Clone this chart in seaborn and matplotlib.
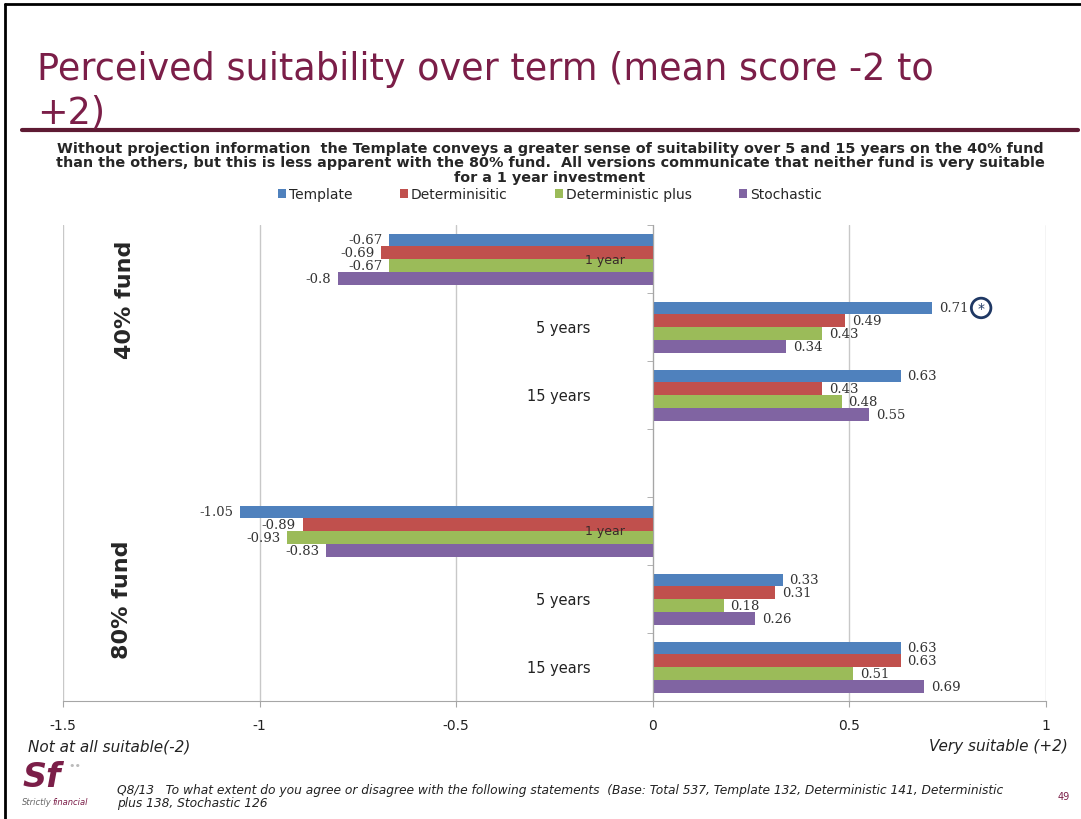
import pandas as pd
import matplotlib.pyplot as plt
import seaborn as sns
from matplotlib.lines import Line2D

# data
funds = ["40% fund", "80% fund"]
terms = ["1 year", "5 years", "15 years"]
versions = ["Template", "Determinisitic", "Deterministic plus", "Stochastic"]
template = [-0.67, 0.71, 0.63, -1.05, 0.33, 0.63]
determinisitic = [-0.69, 0.49, 0.43, -0.89, 0.31, 0.63]
deterministic_plus = [-0.67, 0.43, 0.48, -0.93, 0.18, 0.51]
stochastic = [-0.8, 0.34, 0.55, -0.83, 0.26, 0.69]
x_ticks = [-1.5, -1, -0.5, 0, 0.5, 1]
x_ticklabels = ["-1.5", "-1", "-0.5", "0", "0.5", "1"]

colors = ["#4F81BD", "#C0504D", "#9BBB59", "#8064A2"]
maroon = "#7B1E48"

# long table, one row per bar
slots = [f"{f} {t}" for f in funds for t in terms]
series = [template, determinisitic, deterministic_plus, stochastic]
rows = []
for version, values in zip(versions, series):
    for slot, v in zip(slots, values):
        rows.append({"slot": slot, "version": version, "score": v})
df = pd.DataFrame(rows)
order = slots[:3] + ["gap"] + slots[3:]

sns.set_style("white")
plt.rcParams["font.family"] = ["DejaVu Sans"]

fig = plt.figure(figsize=(10.81, 8.2), dpi=100)
ax = fig.add_axes([63 / 1081, 1 - 702 / 820, (1046 - 63) / 1081, 476 / 820])

sns.barplot(
    data=df,
    y="slot",
    x="score",
    hue="version",
    order=order,
    hue_order=versions,
    palette=dict(zip(versions, colors)),
    orient="h",
    width=0.75,
    errorbar=None,
    saturation=1,
    linewidth=0,
    ax=ax,
)

for c in ax.containers:
    ax.bar_label(c, fmt="%g", padding=5, fontsize=9.5, family="DejaVu Serif", color="#333333")

# axes styling
ax.set_xlim(-1.5, 1)
ax.set_ylim(len(order) - 0.5, -0.5)
ax.set_xticks(x_ticks)
ax.set_xticklabels(x_ticklabels)
ax.set_yticks([])
ax.set_yticks([i - 0.5 for i in range(len(order) + 1)], minor=True)
ax.tick_params(axis="y", which="minor", left=True, length=4, color="#A6A6A6")
ax.tick_params(axis="x", bottom=True, length=4, color="#A6A6A6", labelsize=10, pad=8, labelcolor="#222222")
ax.set_xlabel("")
ax.set_ylabel("")
ax.spines["left"].set_position(("data", 0))
ax.spines["left"].set_color("#A6A6A6")
ax.spines["bottom"].set_color("#A6A6A6")
ax.spines["top"].set_visible(False)
ax.spines["right"].set_visible(False)
ax.grid(axis="x", color="#C8C8C8", lw=1)
ax.set_axisbelow(True)

# term labels next to the zero line
label_pad = {"1 year": 20, "5 years": 45, "15 years": 45}
for i, slot in enumerate(order):
    if slot == "gap":
        continue
    term = slot.split(" ", 2)[2]
    small = term == "1 year"
    ax.annotate(
        term,
        xy=(0, i),
        xytext=(-label_pad[term], 0),
        textcoords="offset points",
        ha="right",
        va="center",
        fontsize=9 if small else 10.5,
        color="#3A2A2A" if small else "#222222",
        zorder=5,
    )

# marked significant value
ax.text(
    0.835, 0.72, "*", ha="center", va="center", fontsize=10, color="#1F3864",
    bbox=dict(boxstyle="circle,pad=0.2", fc="white", ec="#1F3864", lw=2),
)

# fund group labels
fig.text(125 / 1081, 1 - 300 / 820, "40% fund", rotation=90, ha="center", va="center",
         fontsize=16, fontweight="bold")
fig.text(122 / 1081, 1 - 600 / 820, "80% fund", rotation=90, ha="center", va="center",
         fontsize=16, fontweight="bold")

# legend
sns.move_legend(
    ax, "center", bbox_to_anchor=(550 / 1081, 1 - 195 / 820), bbox_transform=fig.transFigure,
    ncol=4, frameon=False, title=None, fontsize=10, handlelength=0.6, handleheight=0.6,
    handletextpad=0.2, columnspacing=3.4,
)

# title and rule
fig.text(37 / 1081, 1 - 70 / 820, "Perceived suitability over term (mean score -2 to",
         fontsize=26.4, color=maroon, va="center")
fig.text(37 / 1081, 1 - 113 / 820, "+2)", fontsize=26.4, color=maroon, va="center")
fig.add_artist(Line2D([22 / 1081, 1078 / 1081], [1 - 131 / 820] * 2, color="#5E1A33", lw=3))

subtitle = [
    "Without projection information  the Template conveys a greater sense of suitability over 5 and 15 years on the 40% fund",
    "than the others, but this is less apparent with the 80% fund.  All versions communicate that neither fund is very suitable",
    "for a 1 year investment",
]
for k, line in enumerate(subtitle):
    fig.text(550 / 1081, 1 - (149 + 14.5 * k) / 820, line, ha="center", va="center",
             fontsize=10.4, fontweight="bold")

# scale end labels
fig.text(28 / 1081, 1 - 747 / 820, "Not at all suitable(-2)", fontsize=11, style="italic",
         va="center", color="#222222")
fig.text(1068 / 1081, 1 - 747 / 820, "Very suitable (+2)", fontsize=11, style="italic",
         va="center", ha="right", color="#222222")

# footer
fig.text(42 / 1081, 1 - 778 / 820, "Sf", fontsize=24, fontweight="bold", style="italic",
         color=maroon, ha="center", va="center")
fig.text(68 / 1081, 1 - 766 / 820, "\u2022\u2022", fontsize=8, color="#BBBBBB", va="center")
fig.text(22 / 1081, 1 - 803 / 820, "Strictly", fontsize=6, style="italic", color="#666666", va="center")
fig.text(52 / 1081, 1 - 803 / 820, "financial", fontsize=6, style="italic", color=maroon, va="center")
fig.text(117 / 1081, 1 - 797 / 820,
         "Q8/13   To what extent do you agree or disagree with the following statements  "
         "(Base: Total 537, Template 132, Deterministic 141, Deterministic\nplus 138, Stochastic 126",
         fontsize=8.8, style="italic", color="#222222", va="center", linespacing=1.0)
fig.text(1064 / 1081, 1 - 797 / 820, "49", fontsize=7, color=maroon, ha="center", va="center")

# slide frame (top and left edges)
fig.add_artist(Line2D([5 / 1081, 1], [1 - 5 / 820] * 2, color="black", lw=2))
fig.add_artist(Line2D([5 / 1081] * 2, [0, 1 - 5 / 820], color="black", lw=2))

fig.savefig("out.png", dpi=100)
